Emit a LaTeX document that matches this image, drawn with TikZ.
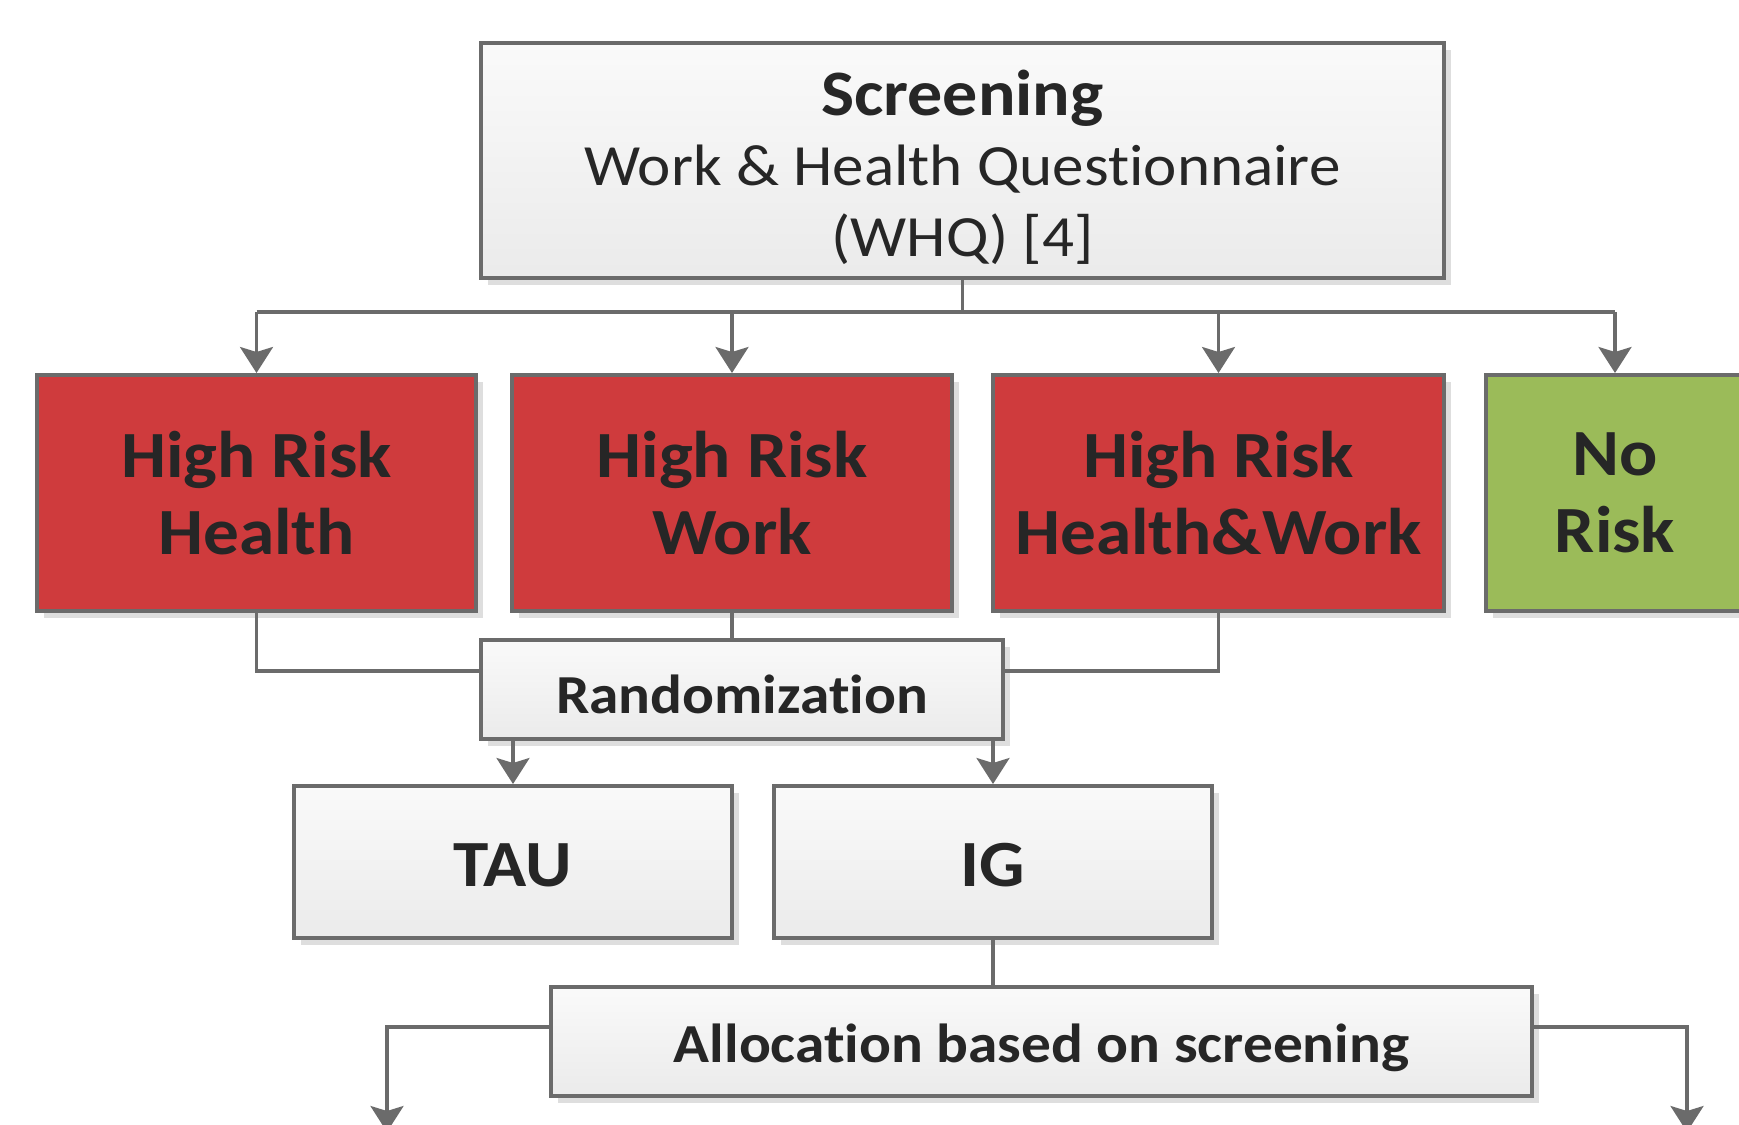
\documentclass[tikz,border=0pt]{standalone}
\usepackage{fontspec}
\setmainfont[FakeStretch=1.08,RawFeature={-liga;-clig;-dlig}]{Carlito}
\usetikzlibrary{arrows.meta,shadows,shadings}
\definecolor{bordergray}{HTML}{6B6B6B}
\definecolor{txt}{HTML}{262626}
\definecolor{riskred}{HTML}{CF3B3D}
\definecolor{nogreen}{HTML}{9BBB59}
\newcommand{\dn}[2]{\raisebox{-#1}[\height][\depth]{#2}}
\newcommand{\nti}{t\kern0pt i}
\tikzset{
  base/.style={draw=bordergray, line width=2pt, text=txt, align=center, inner sep=0pt,
    drop shadow={shadow xshift=3.5pt, shadow yshift=-3.5pt, fill=black!13, opacity=1}},
  graybox/.style={base, top color=white!98!black, bottom color=black!8},
  redbox/.style={base, fill=riskred},
  greenbox/.style={base, fill=nogreen},
  conn/.style={draw=bordergray, line width=1.6pt},
  arr/.style={conn, -{Stealth[width=16.5pt,length=13pt,inset=2.5pt]}},
  bigfont/.style={font=\fontsize{33pt}{38.5pt}\selectfont\bfseries},
}
\begin{document}
\begin{tikzpicture}[x=0.5pt,y=-0.5pt]
\useasboundingbox (0,0) rectangle (1739,1124);
\begin{scope}
\clip (0,0) rectangle (1739,1124);
% nodes
\node[graybox, minimum width=481.5pt, minimum height=117.5pt,
  font=\fontsize{29.2pt}{35.3pt}\selectfont] (scr) at (962.5,160.5)
  {\dn{3.3pt}{\fontsize{32.4pt}{35.3pt}\selectfont\bfseries Screening}\\\dn{3.3pt}{Work \& Health Ques\nti onnaire}\\\dn{3.3pt}{(WHQ) [4]}};
\node[redbox, bigfont, minimum width=219.5pt, minimum height=118pt] (hrh) at (256.5,493) {High Risk\\Health};
\node[redbox, bigfont, minimum width=220pt, minimum height=118pt] (hrw) at (732,493) {High Risk\\Work};
\node[redbox, bigfont, minimum width=225.5pt, minimum height=118pt] (hrhw) at (1218.5,493) {High Risk\\Health\&Work};
\node[greenbox, bigfont, minimum width=129pt, minimum height=118pt] (nor) at (1615,493) {No\\Risk};
\node[graybox, minimum width=261pt, minimum height=49.5pt,
  font=\fontsize{27.5pt}{30pt}\selectfont\bfseries] (rand) at (742,689.5) {\dn{2.2pt}{Randomiza\nti on}};
\node[graybox, minimum width=219pt, minimum height=76pt,
  font=\fontsize{33pt}{36pt}\selectfont\bfseries] (tau) at (513,862) {\dn{1.7pt}{TAU}};
\node[graybox, minimum width=219pt, minimum height=76pt,
  font=\fontsize{33pt}{36pt}\selectfont\bfseries] (ig) at (993,862) {\dn{1.7pt}{IG}};
\node[graybox, minimum width=490.5pt, minimum height=54.5pt,
  font=\fontsize{27.5pt}{30pt}\selectfont\bfseries] (alloc) at (1041.5,1041.5) {\dn{3.3pt}{Alloca\nti on based on screening}};
% helper coordinates
\coordinate (bus) at (0,312);
\coordinate (ry) at (0,671);
\coordinate (ay) at (0,1027);
\coordinate (leftdrop) at (387,1124);
\coordinate (rightdrop) at (1687,1124);
% connectors
\draw[conn] (scr.south) -- (scr.south |- bus);
\draw[conn] (hrh.north |- bus) -- (nor.north |- bus);
\draw[arr] (hrh.north |- bus) -- (hrh.north);
\draw[arr] (hrw.north |- bus) -- (hrw.north);
\draw[arr] (hrhw.north |- bus) -- (hrhw.north);
\draw[arr] (nor.north |- bus) -- (nor.north);
\draw[conn] (hrh.south) |- (rand.west |- ry);
\draw[conn] (hrw.south) -- (hrw.south |- rand.north);
\draw[conn] (hrhw.south) |- (rand.east |- ry);
\draw[arr] (tau.north |- rand.south) -- (tau.north);
\draw[arr] (ig.north |- rand.south) -- (ig.north);
\draw[conn] (ig.south) -- (ig.south |- alloc.north);
\draw[arr] (alloc.west |- ay) -| ([yshift=-4pt]leftdrop);
\draw[arr] (alloc.east |- ay) -| ([yshift=-4pt]rightdrop);
\end{scope}
\end{tikzpicture}
\end{document}
